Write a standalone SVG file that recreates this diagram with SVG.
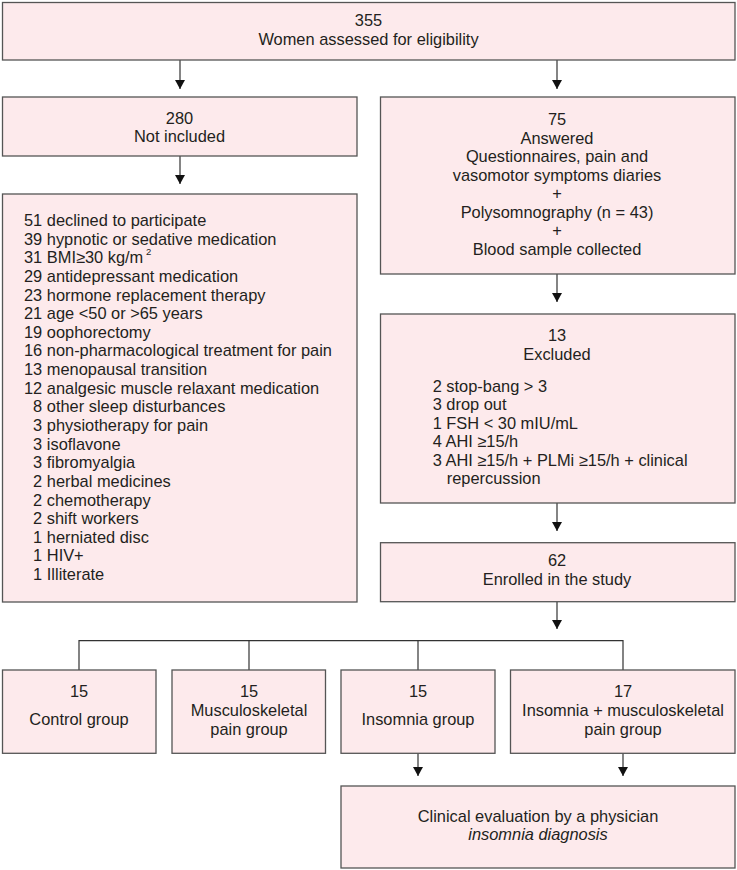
<svg xmlns="http://www.w3.org/2000/svg" width="737" height="870" viewBox="0 0 737 870">
<style>
.box{fill:#fdeaec;stroke:#555;stroke-width:1.3}
text{font-family:"Liberation Sans",Arial,sans-serif;font-size:16.4px;fill:#231f20}
.c{text-anchor:middle}
.n{text-anchor:end}
.ln{stroke:#333;stroke-width:1.2;fill:none}
</style>
<defs>
<marker id="ah" markerWidth="9" markerHeight="10" refX="9" refY="5" orient="auto" markerUnits="userSpaceOnUse" viewBox="0 0 9 10">
<path d="M0,0 L9,5 L0,10 Z" fill="#111"/>
</marker>
</defs>
<rect width="737" height="870" fill="#fff"/>
<g id="connectors">
<line class="ln" x1="180" y1="60" x2="180" y2="89" marker-end="url(#ah)"/>
<line class="ln" x1="557" y1="60" x2="557" y2="89" marker-end="url(#ah)"/>
<line class="ln" x1="180" y1="156" x2="180" y2="184" marker-end="url(#ah)"/>
<line class="ln" x1="557" y1="274" x2="557" y2="302" marker-end="url(#ah)"/>
<line class="ln" x1="557" y1="503" x2="557" y2="531" marker-end="url(#ah)"/>
<line class="ln" x1="557" y1="602" x2="557" y2="629" marker-end="url(#ah)"/>
<polyline class="ln" points="79,670 79,640.7 623,640.7 623,670"/>
<line class="ln" x1="249" y1="640.7" x2="249" y2="670"/>
<line class="ln" x1="418" y1="640.7" x2="418" y2="670"/>
<line class="ln" x1="418" y1="753" x2="418" y2="776" marker-end="url(#ah)"/>
<line class="ln" x1="623" y1="753" x2="623" y2="776" marker-end="url(#ah)"/>
</g>
<g id="n-assessed">
<rect class="box" x="2.5" y="2.5" width="732.5" height="57.5"/>
<text class="c" x="368.5" y="26">355</text>
<text class="c" x="368.5" y="45">Women assessed for eligibility</text>
</g>
<g id="n-notincluded">
<rect class="box" x="2.5" y="97" width="354.5" height="59"/>
<text class="c" x="179.5" y="124">280</text>
<text class="c" x="179.5" y="142">Not included</text>
</g>
<g id="n-reasons">
<rect class="box" x="2.5" y="194" width="354.5" height="408"/>
<text class="n" x="42.2" y="226">51</text><text x="46.8" y="226">declined to participate</text>
<text class="n" x="42.2" y="244.6">39</text><text x="46.8" y="244.6">hypnotic or sedative medication</text>
<text class="n" x="42.2" y="263.3">31</text><text x="46.8" y="263.3">BMI≥30 kg/m</text>
<text x="146" y="255" style="font-size:9.5px">2</text>
<text class="n" x="42.2" y="281.9">29</text><text x="46.8" y="281.9">antidepressant medication</text>
<text class="n" x="42.2" y="300.5">23</text><text x="46.8" y="300.5">hormone replacement therapy</text>
<text class="n" x="42.2" y="319.2">21</text><text x="46.8" y="319.2">age &lt;50 or &gt;65 years</text>
<text class="n" x="42.2" y="337.8">19</text><text x="46.8" y="337.8">oophorectomy</text>
<text class="n" x="42.2" y="356.4">16</text><text x="46.8" y="356.4">non-pharmacological treatment for pain</text>
<text class="n" x="42.2" y="375">13</text><text x="46.8" y="375">menopausal transition</text>
<text class="n" x="42.2" y="393.7">12</text><text x="46.8" y="393.7">analgesic muscle relaxant medication</text>
<text class="n" x="42.2" y="412.3">8</text><text x="46.8" y="412.3">other sleep disturbances</text>
<text class="n" x="42.2" y="430.9">3</text><text x="46.8" y="430.9">physiotherapy for pain</text>
<text class="n" x="42.2" y="449.6">3</text><text x="46.8" y="449.6">isoflavone</text>
<text class="n" x="42.2" y="468.2">3</text><text x="46.8" y="468.2">fibromyalgia</text>
<text class="n" x="42.2" y="486.8">2</text><text x="46.8" y="486.8">herbal medicines</text>
<text class="n" x="42.2" y="505.5">2</text><text x="46.8" y="505.5">chemotherapy</text>
<text class="n" x="42.2" y="524.1">2</text><text x="46.8" y="524.1">shift workers</text>
<text class="n" x="42.2" y="542.7">1</text><text x="46.8" y="542.7">herniated disc</text>
<text class="n" x="42.2" y="561.4">1</text><text x="46.8" y="561.4">HIV+</text>
<text class="n" x="42.2" y="580">1</text><text x="46.8" y="580">Illiterate</text>
</g>
<g id="n-answered">
<rect class="box" x="380.5" y="97" width="354.5" height="177"/>
<text class="c" x="557" y="125">75</text>
<text class="c" x="557" y="143.6">Answered</text>
<text class="c" x="557" y="162.1">Questionnaires, pain and</text>
<text class="c" x="557" y="180.7">vasomotor symptoms diaries</text>
<text class="c" x="557" y="199.3">+</text>
<text class="c" x="557" y="217.9">Polysomnography (n = 43)</text>
<text class="c" x="557" y="236.4">+</text>
<text class="c" x="557" y="255">Blood sample collected</text>
</g>
<g id="n-excluded">
<rect class="box" x="380.5" y="314" width="354.5" height="189"/>
<text class="c" x="557" y="341">13</text>
<text class="c" x="557" y="360">Excluded</text>
<text x="432.7" y="391.7">2 stop-bang &gt; 3</text>
<text x="432.7" y="410">3 drop out</text>
<text x="432.7" y="428.5">1 FSH &lt; 30 mIU/mL</text>
<text x="432.7" y="447">4 AHI ≥15/h</text>
<text x="432.7" y="465.5">3 AHI ≥15/h + PLMi ≥15/h + clinical</text>
<text x="446.7" y="484">repercussion</text>
</g>
<g id="n-enrolled">
<rect class="box" x="380.5" y="542.7" width="354.5" height="59"/>
<text class="c" x="557" y="566">62</text>
<text class="c" x="557" y="585">Enrolled in the study</text>
</g>
<g id="n-control">
<rect class="box" x="2.5" y="670" width="153.5" height="83.3"/>
<text class="c" x="79" y="697.3">15</text>
<text class="c" x="79" y="725">Control group</text>
</g>
<g id="n-msk">
<rect class="box" x="172" y="670" width="153.5" height="83.3"/>
<text class="c" x="249" y="697.3">15</text>
<text class="c" x="249" y="716">Musculoskeletal</text>
<text class="c" x="249" y="735">pain group</text>
</g>
<g id="n-insomnia">
<rect class="box" x="341" y="670" width="154" height="83.3"/>
<text class="c" x="418" y="697.3">15</text>
<text class="c" x="418" y="725">Insomnia group</text>
</g>
<g id="n-ins-msk">
<rect class="box" x="510.5" y="670" width="224.5" height="83.3"/>
<text class="c" x="623" y="697.3">17</text>
<text class="c" x="623" y="716">Insomnia + musculoskeletal</text>
<text class="c" x="623" y="735">pain group</text>
</g>
<g id="n-clinical">
<rect class="box" x="341" y="786" width="394" height="82"/>
<text class="c" x="538" y="822">Clinical evaluation by a physician</text>
<text class="c" x="538" y="840" font-style="italic">insomnia diagnosis</text>
</g>
</svg>
